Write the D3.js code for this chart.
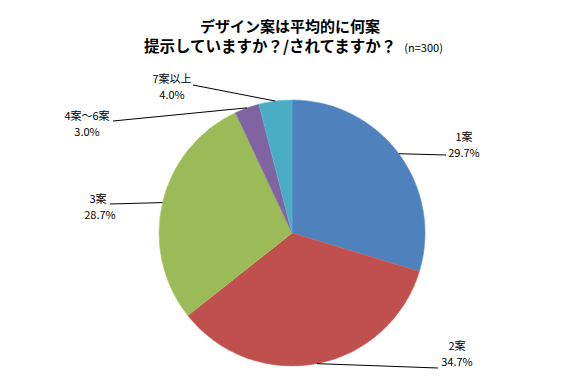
<!DOCTYPE html>
<html>
<head>
<meta charset="utf-8">
<script src="https://cdn.jsdelivr.net/npm/d3@7"></script>
<style>
  body { margin: 0; background: #fff; }
</style>
</head>
<body>
<script>
// data
var categories = ["1案", "2案", "3案", "4案～6案", "7案以上"];
var values = [29.7, 34.7, 28.7, 3.0, 4.0];
var colours = ["#4F81BD", "#C0504D", "#9BBB59", "#8064A2", "#4BACC6"];

var width = 583, height = 383;
var cx = 292, cy = 233, r = 133;
var font = "'Noto Sans CJK JP', 'DejaVu Sans', sans-serif";

var svg = d3.select("body").append("svg")
   .attr("width", width).attr("height", height);

// title
svg.append("text")
   .attr("font-family", font)
   .attr("font-weight", "bold")
   .attr("font-size", "15px")
   .attr("fill", "#000")
   .attr("x", 290).attr("y", 32).attr("text-anchor", "middle")
   .text("デザイン案は平均的に何案");
svg.append("text")
   .attr("font-family", font)
   .attr("x", 144).attr("y", 52)
   .attr("fill", "#000")
   .call(function(t){
      t.append("tspan").attr("font-weight", "bold").attr("font-size", "15.5px")
       .text("提示していますか？/されてますか？");
      t.append("tspan").attr("font-size", "11px").attr("dx", "8")
       .text("(n=300)");
   });

var pie = d3.pie().sort(null).value(function(d){ return d; });
var arcs = pie(values);
var arc = d3.arc().innerRadius(0).outerRadius(r);

var g = svg.append("g").attr("transform", "translate(" + cx + "," + cy + ")");
g.selectAll("path.slice").data(arcs).enter().append("path")
   .attr("class", "slice")
   .attr("d", arc)
   .attr("fill", function(d, i){ return colours[i]; })
   .attr("stroke", function(d, i){ return d3.color(colours[i]).brighter(0.3); })
   .attr("stroke-width", 0.6);

// label layout: line end point (relative to centre) and text position
var labelLayout = [
   {lx: 154, ly: -78, tx: 172, ty: -92, anchor: "middle"},
   {lx: 146, ly: 135, tx: 165, ty: 117, anchor: "middle"},
   {lx: -182, ly: -29, tx: -184, ty: -30, anchor: "end"},
   {lx: -179, ly: -112, tx: -205, ty: -113, anchor: "middle"},
   {lx: -99, ly: -148, tx: -120, ty: -150, anchor: "middle"}
];

arcs.forEach(function(d, i){
   var a = (d.startAngle + d.endAngle) / 2;
   var px = r * Math.sin(a), py = -r * Math.cos(a);
   var L = labelLayout[i];
   g.append("line")
      .attr("x1", px).attr("y1", py)
      .attr("x2", L.lx).attr("y2", L.ly)
      .attr("stroke", "#000").attr("stroke-width", 1);
   var t = g.append("text")
      .attr("font-family", font)
      .attr("font-size", "11px")
      .attr("fill", "#000")
      .attr("text-anchor", "middle");
   var tx = L.tx;
   if (L.anchor == "end") {
      t.append("tspan").attr("x", tx - 10).attr("y", L.ty).text(categories[i]);
      t.append("tspan").attr("x", tx - 8).attr("y", L.ty + 16).text(values[i].toFixed(1) + "%");
   } else {
      t.append("tspan").attr("x", tx).attr("y", L.ty).text(categories[i]);
      t.append("tspan").attr("x", tx).attr("y", L.ty + 16).text(values[i].toFixed(1) + "%");
   }
});
</script>
</body>
</html>
